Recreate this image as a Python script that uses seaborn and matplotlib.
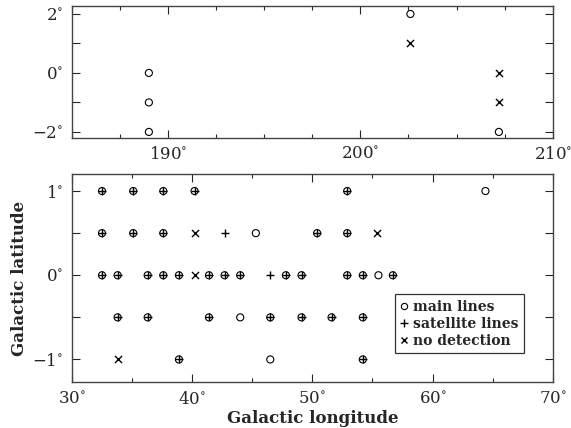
import seaborn as sns
import matplotlib.pyplot as plt
from matplotlib.lines import Line2D
from matplotlib.ticker import MultipleLocator, FixedLocator

# top panel (outer galaxy)
top_main_l = [189.0, 189.0, 189.0, 202.6, 207.2]
top_main_b = [0, -1, -2, 2, -2]
top_nodet_l = [202.6, 207.2, 207.2]
top_nodet_b = [1, 0, -1]

# bottom panel (inner galaxy)
main_l = [32.5, 35.1, 37.6, 40.2, 52.9, 64.4,
          32.5, 35.1, 37.6, 50.4, 52.9, 45.3,
          32.5, 33.8, 36.3, 37.6, 38.9, 41.4, 42.7, 44.0, 47.8, 49.1, 52.9, 54.2, 56.7, 55.5,
          33.8, 36.3, 41.4, 46.5, 49.1, 51.6, 54.2, 44.0,
          38.9, 54.2, 46.5]
main_b = [1, 1, 1, 1, 1, 1,
          0.5, 0.5, 0.5, 0.5, 0.5, 0.5,
          0, 0, 0, 0, 0, 0, 0, 0, 0, 0, 0, 0, 0, 0,
          -0.5, -0.5, -0.5, -0.5, -0.5, -0.5, -0.5, -0.5,
          -1, -1, -1]
sat_l = [32.5, 35.1, 37.6, 40.2, 52.9,
         32.5, 35.1, 37.6, 50.4, 52.9, 42.7,
         32.5, 33.8, 36.3, 37.6, 38.9, 41.4, 42.7, 44.0, 47.8, 49.1, 52.9, 54.2, 56.7, 46.5,
         33.8, 36.3, 41.4, 46.5, 49.1, 51.6, 54.2,
         38.9, 54.2]
sat_b = [1, 1, 1, 1, 1,
         0.5, 0.5, 0.5, 0.5, 0.5, 0.5,
         0, 0, 0, 0, 0, 0, 0, 0, 0, 0, 0, 0, 0, 0,
         -0.5, -0.5, -0.5, -0.5, -0.5, -0.5, -0.5,
         -1, -1]
nodet_l = [40.2, 55.4, 40.2, 33.8]
nodet_b = [0.5, 0.5, 0, -1]

sns.set_style("ticks")
plt.rcParams['font.family'] = ['DejaVu Serif']
plt.rcParams['mathtext.fontset'] = 'dejavuserif'

fig = plt.figure(figsize=(5.71, 4.28), dpi=100)
ax1 = fig.add_axes([0.126, 0.678, 0.842, 0.308])
ax2 = fig.add_axes([0.126, 0.107, 0.842, 0.486])

ms = 26
sns.scatterplot(x=top_main_l, y=top_main_b, ax=ax1, marker='o', s=ms, facecolors='none', edgecolor='black', linewidth=0.8)
sns.scatterplot(x=top_nodet_l, y=top_nodet_b, ax=ax1, marker='x', s=ms, color='black', linewidth=1.0)

sns.scatterplot(x=main_l, y=main_b, ax=ax2, marker='o', s=ms, facecolors='none', edgecolor='black', linewidth=0.8)
sns.scatterplot(x=sat_l, y=sat_b, ax=ax2, marker='+', s=ms, color='black', linewidth=1.0)
sns.scatterplot(x=nodet_l, y=nodet_b, ax=ax2, marker='x', s=ms, color='black', linewidth=1.0)

deg = lambda v, p: f"{v:g}$^{{\\circ}}$".replace('-', '\u2212')

ax1.set_xlim(185, 210)
ax1.set_ylim(-2.2, 2.27)
ax1.xaxis.set_major_locator(FixedLocator([190, 200, 210]))
ax1.xaxis.set_minor_locator(MultipleLocator(2.5))
ax1.yaxis.set_major_locator(FixedLocator([-2, 0, 2]))
ax1.yaxis.set_minor_locator(FixedLocator([-1, 1]))

ax2.set_xlim(30, 70)
ax2.set_ylim(-1.27, 1.2)
ax2.xaxis.set_major_locator(MultipleLocator(10))
ax2.xaxis.set_minor_locator(MultipleLocator(5))
ax2.yaxis.set_major_locator(FixedLocator([-1, 0, 1]))
ax2.yaxis.set_minor_locator(FixedLocator([-0.5, 0.5]))

for ax in (ax1, ax2):
    ax.xaxis.set_major_formatter(deg)
    ax.yaxis.set_major_formatter(deg)
    ax.tick_params(which='both', direction='in', top=True, right=True, labelsize=12, width=0.8, pad=6)
    ax.tick_params(which='major', length=6)
    ax.tick_params(axis='x', which='minor', length=3)
    ax.tick_params(axis='y', which='minor', length=6)
    for s in ax.spines.values():
        s.set_color('#444444')
        s.set_linewidth(1.0)

ax2.set_xlabel("Galactic longitude", fontsize=12, fontweight='bold', labelpad=2)
ax2.set_ylabel("Galactic latitude", fontsize=12, fontweight='bold', labelpad=3)

handles = [Line2D([], [], marker='o', ls='none', mfc='none', mec='black', ms=4.5, mew=0.8),
           Line2D([], [], marker='+', ls='none', color='black', ms=5.5),
           Line2D([], [], marker='x', ls='none', color='black', ms=4.5)]
leg = ax2.legend(handles, ["main lines", "satellite lines", "no detection"],
                 loc='lower right', bbox_to_anchor=(0.94, 0.14), borderaxespad=0, fancybox=False,
                 edgecolor='#333333', framealpha=1, handlelength=0.5, handletextpad=0.4,
                 borderpad=0.4, labelspacing=0.2,
                 prop={'family': 'DejaVu Serif', 'weight': 'bold', 'size': 10})
leg.get_frame().set_linewidth(0.9)

fig.savefig("out.png", dpi=100)
